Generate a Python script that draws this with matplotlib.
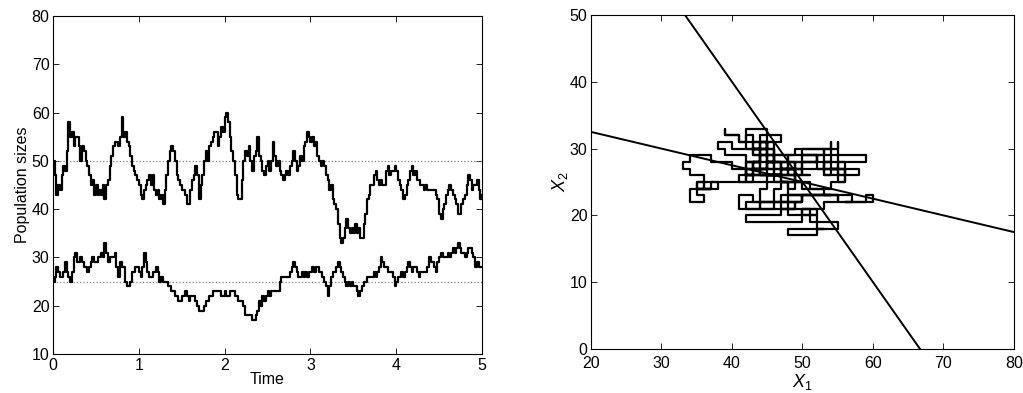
import numpy as np
import matplotlib
matplotlib.use("Agg")
import matplotlib.pyplot as plt

plt.rcParams['font.family'] = ['Liberation Sans', 'DejaVu Sans']
plt.rcParams['mathtext.fontset'] = 'custom'
plt.rcParams['mathtext.it'] = 'Liberation Sans:italic'
plt.rcParams['mathtext.rm'] = 'Liberation Sans'

x1_values = [
    50, 47, 43, 45, 44, 47, 49, 48, 52, 58,
    55, 56, 53, 55, 55, 53, 50, 53, 52, 50,
    49, 47, 45, 46, 43, 45, 43, 44, 43, 45,
    42, 45, 46, 49, 51, 53, 54, 54, 53, 55,
    59, 55, 56, 54, 53, 51, 49, 48, 47, 46,
    45, 43, 42, 44, 45, 46, 47, 45, 47, 44,
    43, 44, 42, 43, 41, 44, 47, 50, 52, 53,
    52, 50, 47, 46, 45, 44, 44, 43, 41, 41,
    44, 46, 47, 49, 47, 42, 45, 47, 50, 52,
    50, 53, 54, 55, 56, 56, 53, 55, 57, 56,
    59, 60, 58, 55, 52, 50, 47, 43, 42, 42,
    46, 50, 52, 51, 53, 50, 48, 51, 52, 55,
    51, 50, 48, 47, 49, 50, 48, 50, 54, 51,
    49, 50, 48, 47, 46, 47, 48, 47, 49, 50,
    52, 50, 48, 49, 51, 50, 53, 54, 56, 55,
    54, 55, 53, 54, 51, 50, 49, 50, 49, 47,
    46, 44, 45, 42, 41, 40, 37, 34, 33, 34,
    36, 38, 36, 35, 36, 35, 37, 35, 36, 34,
    34, 37, 39, 42, 43, 45, 45, 47, 48, 46,
    45, 46, 45, 45, 48, 49, 47, 48, 48, 49,
    48, 46, 45, 44, 42, 43, 45, 46, 48, 49,
    47, 48, 46, 46, 45, 45, 44, 45, 44, 44,
    44, 44, 44, 43, 42, 39, 38, 40, 41, 43,
    44, 45, 44, 43, 42, 41, 39, 39, 41, 42,
    43, 45, 47, 46, 44, 45, 45, 46, 44, 42,
    43,
]
x2_values = [
    25, 26, 28, 27, 26, 26, 27, 29, 27, 26,
    25, 27, 30, 31, 29, 29, 30, 29, 28, 28,
    27, 28, 29, 30, 29, 29, 30, 30, 31, 30,
    33, 31, 29, 30, 30, 30, 31, 28, 26, 29,
    28, 28, 25, 24, 24, 25, 27, 27, 28, 28,
    27, 26, 28, 31, 29, 27, 26, 26, 27, 27,
    28, 27, 25, 26, 25, 25, 25, 24, 24, 23,
    23, 22, 22, 21, 21, 22, 22, 23, 22, 21,
    22, 22, 22, 21, 20, 19, 19, 19, 20, 21,
    21, 22, 22, 23, 23, 23, 23, 23, 22, 22,
    23, 22, 22, 23, 23, 23, 22, 22, 21, 21,
    21, 20, 18, 18, 18, 18, 17, 17, 18, 19,
    21, 20, 22, 21, 22, 23, 22, 23, 23, 23,
    23, 23, 25, 26, 26, 26, 26, 26, 27, 28,
    29, 28, 27, 26, 26, 27, 26, 27, 26, 27,
    27, 28, 27, 28, 28, 27, 27, 26, 25, 24,
    22, 24, 26, 27, 27, 28, 29, 28, 27, 26,
    25, 24, 25, 24, 25, 24, 24, 23, 22, 23,
    24, 25, 25, 26, 26, 26, 26, 27, 26, 27,
    28, 30, 29, 28, 28, 27, 27, 27, 26, 24,
    25, 26, 26, 27, 26, 27, 28, 29, 28, 27,
    28, 28, 27, 26, 27, 27, 27, 27, 28, 30,
    29, 29, 28, 27, 29, 30, 31, 30, 30, 30,
    31, 30, 31, 32, 31, 32, 33, 32, 31, 31,
    30, 31, 32, 32, 31, 30, 28, 29, 28, 28,
    28,
]
equilibrium_x1 = 50
equilibrium_x2 = 25
# nullcline end points (X1, X2)
null1_x1 = [33.33, 66.67]
null1_x2 = [50.0, 0.0]
null2_x1 = [20.0, 80.0]
null2_x2 = [32.5, 17.5]

n = min(len(x1_values), len(x2_values))
x1 = np.array(x1_values[:n], dtype=float)
x2 = np.array(x2_values[:n], dtype=float)
time = np.linspace(0, 5, n)

fig = plt.figure(figsize=(10.23, 3.93), dpi=100)
ax1 = fig.add_axes([0.0518, 0.0992, 0.4194, 0.8601])
ax2 = fig.add_axes([0.5777, 0.112, 0.4135, 0.8498])

fs = 11.5
lw = 1.6
ax1.axhline(equilibrium_x1, color='#808080', linestyle=':', linewidth=0.9)
ax1.axhline(equilibrium_x2, color='#808080', linestyle=':', linewidth=0.9)
ax1.plot(time, x1, color='black', drawstyle='steps-post', linewidth=lw)
ax1.plot(time, x2, color='black', drawstyle='steps-post', linewidth=lw)
ax1.set_xlim(0, 5)
ax1.set_ylim(10, 80)
ax1.set_xticks(range(0, 6))
ax1.set_yticks(range(10, 81, 10))
ax1.set_xlabel('Time', fontsize=fs, labelpad=-1)
ax1.set_ylabel('Population sizes', fontsize=fs, labelpad=1)

ax2.plot(null1_x1, null1_x2, color='black', linewidth=1.4)
ax2.plot(null2_x1, null2_x2, color='black', linewidth=1.4)
ax2.plot(x1, x2, color='black', drawstyle='steps-post', linewidth=lw)
ax2.set_xlim(20, 80)
ax2.set_ylim(0, 50)
ax2.set_xticks(range(20, 81, 10))
ax2.set_yticks(range(0, 51, 10))
ax2.set_xlabel(r'$\mathit{X_1}$', fontsize=13, labelpad=0.5)
ax2.set_ylabel(r'$\mathit{X_2}$', fontsize=13, labelpad=0)

for ax in (ax1, ax2):
    ax.tick_params(direction='in', top=True, right=True, length=4,
                   width=0.6, labelsize=fs)
    ax.tick_params(axis='x', pad=3)
    ax.tick_params(axis='y', pad=2.5)
    for s in ax.spines.values():
        s.set_linewidth(0.8)
ax2.tick_params(axis='x', pad=5)

fig.savefig('out.png', dpi=100)
